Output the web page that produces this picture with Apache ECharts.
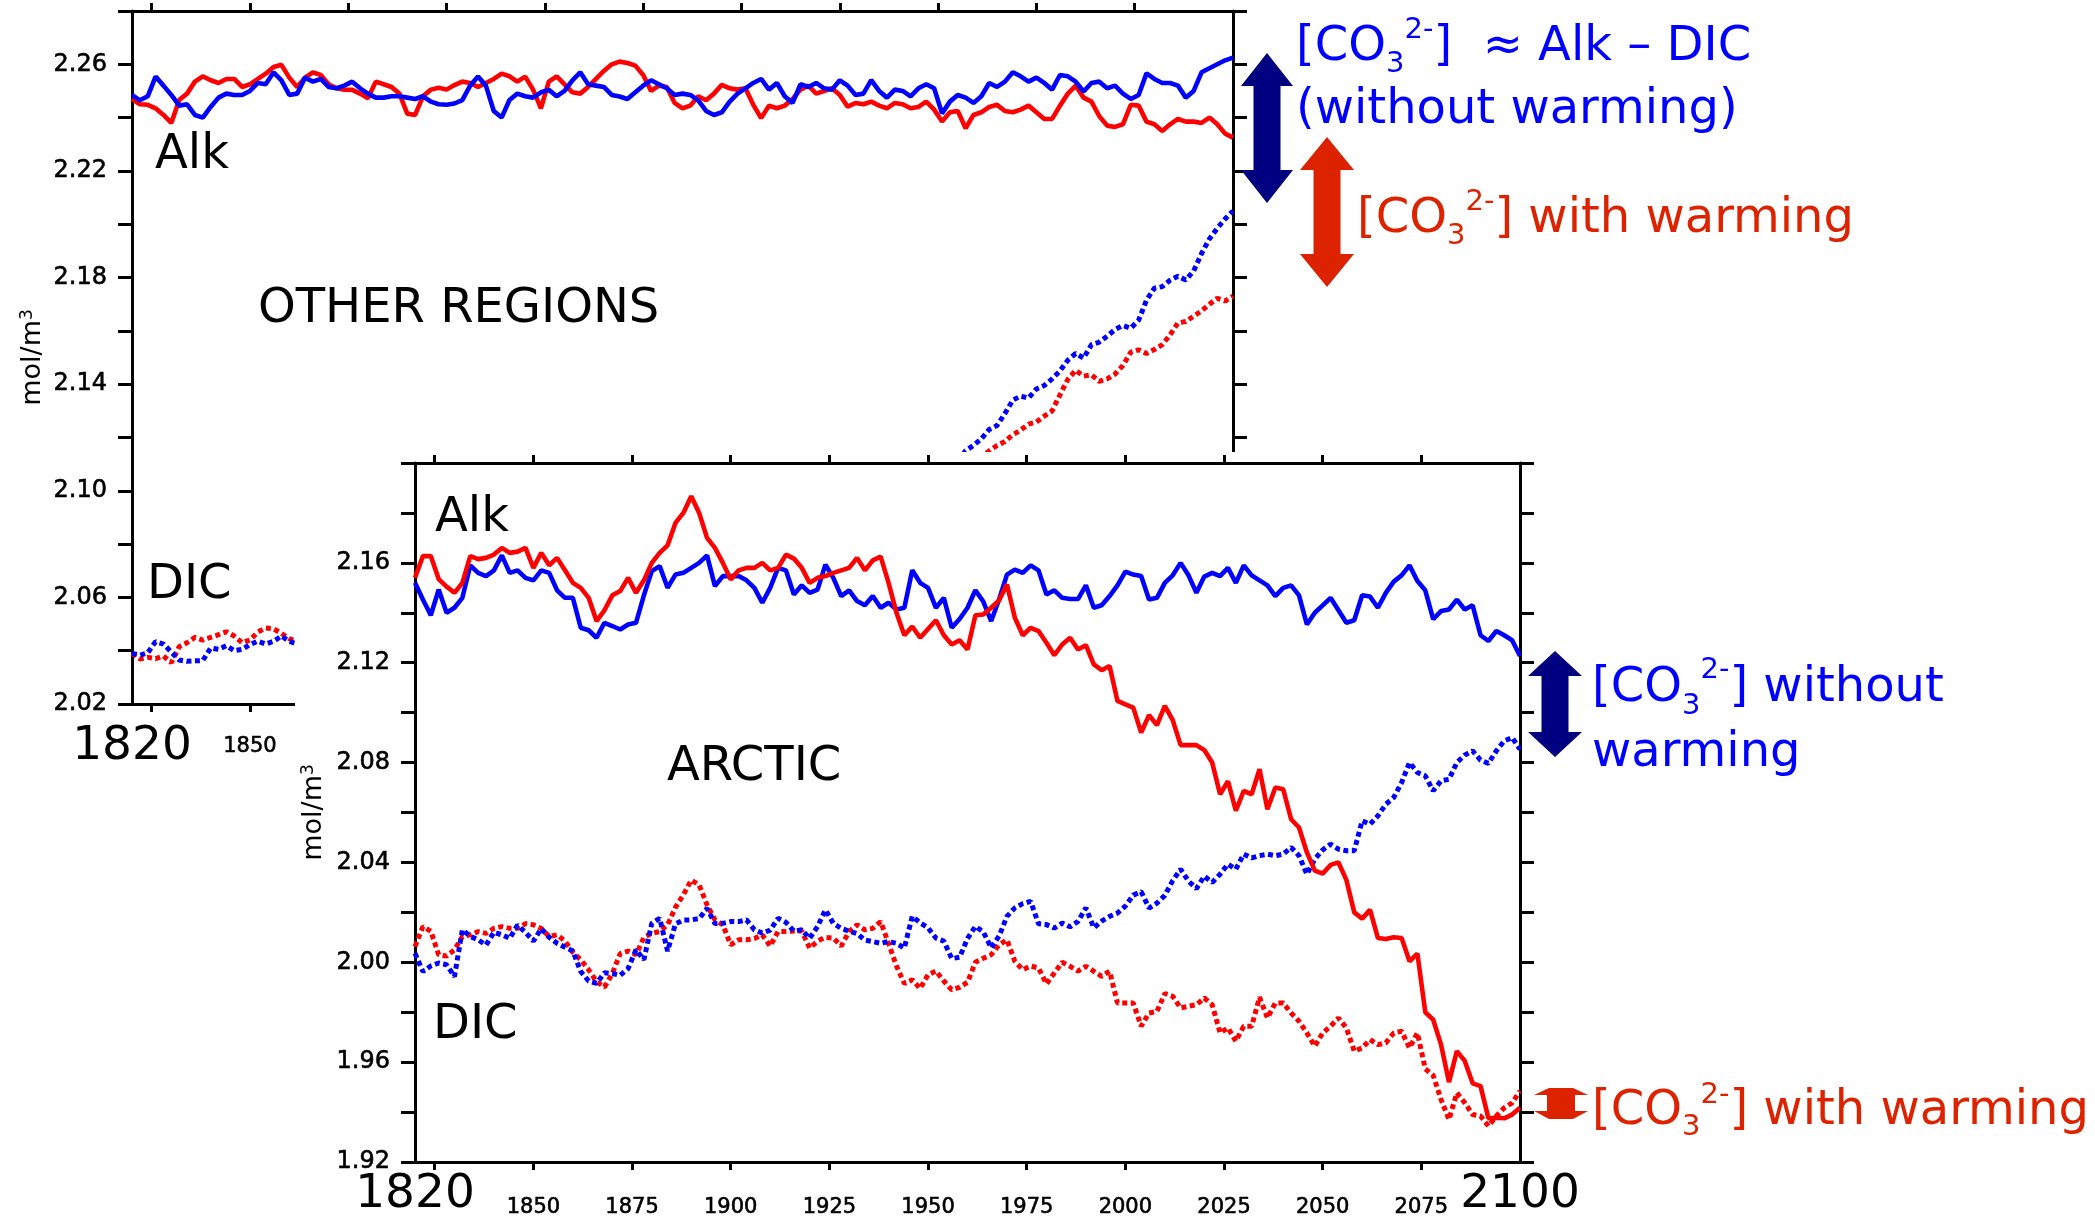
<!DOCTYPE html>
<html><head><meta charset="utf-8">
<script src="https://cdn.jsdelivr.net/npm/echarts@6.0.0/dist/echarts.min.js"></script>
<style>html,body{margin:0;padding:0;background:#fff}#c{width:2095px;height:1216px}</style>
</head><body><div id="c"></div>
<script>
// ---------------- data (2-year steps) ----------------
const START_YEAR = 1820, STEP = 2;
const tickYears = [1825,1850,1875,1900,1925,1950,1975,2000,2025,2050,2075];
const labelYears = [1820,1850,1875,1900,1925,1950,1975,2000,2025,2050,2075,2100];
const otherYLabels = ['2.02','2.06','2.10','2.14','2.18','2.22','2.26'];
const arcticYLabels = ['1.92','1.96','2.00','2.04','2.08','2.12','2.16'];

// OTHER REGIONS, Alk (1820..2100)
const otherAlkBlue = [
2.2485,2.2465,2.248,2.2554,2.252,2.2485,2.2445,2.245,2.241,2.240,
2.244,2.2475,2.249,2.2485,2.2485,2.250,2.253,2.2525,2.257,2.254,
2.2485,2.249,2.255,2.2535,2.2545,2.2515,2.251,2.252,2.2535,2.251,
2.249,2.2475,2.2475,2.248,2.248,2.2475,2.247,2.248,2.246,2.245,
2.2448,2.2453,2.2466,2.252,2.2554,2.252,2.2425,2.240,2.2466,2.249,
2.248,2.2475,2.2495,2.2504,2.248,2.250,2.254,2.257,2.2525,2.252,
2.2515,2.2485,2.2479,2.247,2.2495,2.252,2.254,2.2525,2.251,2.2485,
2.249,2.2485,2.2465,2.2425,2.241,2.242,2.246,2.249,2.251,2.253,
2.2545,2.2505,2.253,2.248,2.2455,2.2525,2.2515,2.253,2.251,2.2505,
2.254,2.252,2.2485,2.249,2.2541,2.250,2.2475,2.2505,2.250,2.248,
2.251,2.2525,2.251,2.2416,2.246,2.2485,2.2475,2.2455,2.248,2.253,
2.2515,2.2535,2.257,2.2555,2.2535,2.255,2.253,2.2505,2.256,2.2555,
2.2535,2.2498,2.253,2.2535,2.251,2.252,2.249,2.247,2.2485,2.2566,
2.2545,2.253,2.253,2.252,2.2475,2.250,2.257,2.2585,2.260,2.2615,
2.2625];
const otherAlkRed = [
2.247,2.245,2.2448,2.2435,2.241,2.238,2.2466,2.249,2.2535,2.2555,
2.254,2.253,2.2545,2.2545,2.2515,2.2525,2.2545,2.2565,2.259,2.2598,
2.255,2.2515,2.255,2.257,2.256,2.2525,2.251,2.2505,2.2504,2.249,
2.2473,2.2535,2.2525,2.2515,2.249,2.2415,2.241,2.248,2.2505,2.2512,
2.2505,2.2522,2.2535,2.253,2.2515,2.253,2.2545,2.2565,2.2555,2.2535,
2.2554,2.2505,2.2435,2.2535,2.2555,2.2525,2.2495,2.249,2.2515,2.2545,
2.2575,2.260,2.261,2.2605,2.2595,2.256,2.250,2.252,2.2515,2.2455,
2.2435,2.2445,2.248,2.2465,2.249,2.2523,2.251,2.2505,2.251,2.2448,
2.2398,2.2445,2.2435,2.2445,2.247,2.2505,2.252,2.249,2.250,2.251,
2.2485,2.2441,2.2455,2.245,2.246,2.2445,2.2435,2.2455,2.245,2.2435,
2.244,2.246,2.243,2.2385,2.242,2.2425,2.236,2.241,2.242,2.244,
2.2448,2.2425,2.242,2.243,2.2445,2.242,2.2395,2.2395,2.2445,2.249,
2.252,2.2475,2.246,2.2405,2.237,2.2365,2.2375,2.2448,2.2445,2.2385,
2.2375,2.235,2.2375,2.2395,2.2385,2.2385,2.238,2.240,2.2375,2.234,
2.2325];
// OTHER REGIONS, DIC (visible parts only)
const otherDicEarlyStart = 1820;
const otherDicBlueEarly = [2.0390,2.0383,2.0392,2.0434,2.0425,2.0395,2.0365,2.0360,2.0362,2.0363,2.0410,2.0405,2.0419,2.0400,2.0405,2.0423,2.0436,2.0425,2.0435,2.0455,2.0435,2.0425];
const otherDicRedEarly = [2.0390,2.0369,2.0375,2.0370,2.0380,2.0355,2.0415,2.0430,2.0450,2.0440,2.0450,2.0460,2.0471,2.0455,2.0430,2.0440,2.0470,2.0485,2.0482,2.0465,2.0445,2.0435];
const otherDicBlueLateStart = 2030;
const otherDicBlueLate = [2.111,2.1150,2.1170,2.1195,2.1230,2.1245,2.1290,2.1340,2.1355,2.1348,2.1382,2.1395,2.1420,2.1450,2.1490,2.1515,2.1498,2.1548,2.1558,2.1580,2.1605,2.1620,2.1610,2.1640,2.1715,2.1760,2.1766,2.1790,2.1805,2.1791,2.1825,2.1890,2.1945,2.1985,2.2020,2.2050];
const otherDicRedLateStart = 2034;
const otherDicRedLate = [2.110,2.1125,2.1150,2.1170,2.1185,2.1210,2.1228,2.1250,2.1258,2.1280,2.1300,2.1360,2.1418,2.1452,2.1430,2.1435,2.1410,2.1420,2.1438,2.1470,2.1520,2.1529,2.1515,2.1530,2.1548,2.1585,2.1630,2.1635,2.1655,2.1675,2.1700,2.1722,2.1712,2.1730];

// ARCTIC (1820..2100)
const arcticAlkBlue = [
2.152,2.1453,2.139,2.1493,2.140,2.142,2.146,2.159,2.156,2.1547,
2.157,2.163,2.156,2.157,2.154,2.153,2.157,2.156,2.149,2.146,
2.146,2.134,2.133,2.130,2.136,2.1347,2.1333,2.1353,2.136,2.147,
2.1567,2.1587,2.150,2.1553,2.156,2.158,2.160,2.163,2.1507,2.1547,
2.1547,2.1547,2.153,2.150,2.144,2.150,2.158,2.157,2.1473,2.151,
2.148,2.1493,2.1593,2.154,2.1467,2.149,2.1447,2.143,2.1467,2.142,
2.144,2.1413,2.142,2.157,2.152,2.150,2.142,2.146,2.134,2.1375,
2.142,2.149,2.1445,2.1367,2.1453,2.1553,2.1573,2.156,2.159,2.157,
2.1473,2.149,2.146,2.1455,2.1455,2.151,2.142,2.143,2.1467,2.151,
2.1565,2.1553,2.1547,2.1453,2.146,2.152,2.155,2.160,2.155,2.148,
2.1545,2.156,2.1547,2.158,2.152,2.159,2.155,2.153,2.151,2.1467,
2.150,2.151,2.147,2.1353,2.140,2.143,2.146,2.141,2.136,2.137,
2.147,2.1465,2.142,2.148,2.1525,2.155,2.159,2.1527,2.149,2.1375,
2.1407,2.1413,2.1453,2.1413,2.143,2.131,2.1287,2.1327,2.131,2.129,
2.1227];
const arcticAlkRed = [
2.154,2.1627,2.1627,2.1535,2.1505,2.148,2.152,2.1627,2.1615,2.162,
2.1633,2.166,2.164,2.1645,2.166,2.158,2.164,2.159,2.162,2.157,
2.152,2.150,2.146,2.1367,2.141,2.147,2.1487,2.154,2.148,2.153,
2.160,2.164,2.167,2.176,2.180,2.1867,2.180,2.170,2.166,2.160,
2.1533,2.157,2.158,2.158,2.160,2.157,2.158,2.1633,2.1617,2.158,
2.152,2.154,2.1547,2.156,2.157,2.158,2.162,2.157,2.161,2.1625,
2.152,2.140,2.131,2.1345,2.130,2.1335,2.137,2.131,2.1273,2.129,
2.1253,2.139,2.1393,2.142,2.145,2.1513,2.138,2.131,2.134,2.1327,
2.128,2.123,2.1273,2.130,2.1253,2.127,2.1193,2.117,2.1187,2.1047,
2.1033,2.102,2.092,2.099,2.095,2.1027,2.097,2.087,2.087,2.087,
2.085,2.080,2.0673,2.0725,2.0607,2.0687,2.0673,2.0773,2.0613,2.070,
2.0693,2.0573,2.054,2.044,2.0367,2.0355,2.039,2.040,2.033,2.020,
2.0175,2.021,2.0097,2.0093,2.010,2.0097,2.0004,2.0035,1.980,1.977,
1.967,1.952,1.9644,1.9605,1.9515,1.9504,1.9375,1.9377,1.9375,1.939,
1.9417];
const arcticDicBlue = [
2.0036,1.9963,1.9985,1.9997,1.999,1.9943,2.013,2.0104,2.009,2.0069,
2.012,2.011,2.0096,2.0149,2.012,2.0085,2.0135,2.010,2.0076,2.006,
2.0045,1.9963,1.9925,1.9916,1.9958,1.9955,1.9948,1.9975,2.005,2.001,
2.0156,2.0176,2.0045,2.0154,2.0169,2.017,2.0175,2.0216,2.0155,2.0156,
2.0163,2.0163,2.017,2.013,2.0117,2.0129,2.0176,2.016,2.0125,2.013,
2.0096,2.0143,2.021,2.0156,2.0136,2.0125,2.0115,2.0089,2.0083,2.0076,
2.0083,2.0076,2.0057,2.0184,2.0158,2.0138,2.0097,2.0085,2.0015,2.002,
2.0095,2.0144,2.0122,2.0058,2.0105,2.0184,2.0218,2.0235,2.0244,2.0154,
2.0151,2.0137,2.0157,2.0142,2.0164,2.0218,2.0138,2.0165,2.0184,2.0197,
2.0225,2.0269,2.0283,2.0217,2.0237,2.0268,2.0327,2.0373,2.0325,2.0295,
2.0345,2.032,2.0353,2.0393,2.0373,2.0433,2.0418,2.0427,2.0433,2.0427,
2.0433,2.046,2.0427,2.0353,2.0413,2.045,2.0473,2.0453,2.0447,2.0447,
2.0567,2.0553,2.0587,2.0633,2.066,2.072,2.080,2.076,2.0747,2.0687,
2.0727,2.0733,2.080,2.083,2.0847,2.081,2.0797,2.0847,2.0887,2.090,
2.0853];
const arcticDicRed = [
2.0063,2.0143,2.0125,2.003,2.0025,2.005,2.0103,2.011,2.0123,2.0116,
2.0136,2.0143,2.0136,2.0136,2.0155,2.015,2.0135,2.0103,2.011,2.0085,
2.004,2.001,1.997,1.9923,1.990,1.9955,2.0035,2.0045,2.003,2.010,
2.0116,2.0123,2.015,2.022,2.027,2.0329,2.031,2.023,2.017,2.015,
2.007,2.009,2.009,2.0095,2.011,2.0065,2.0123,2.0123,2.0125,2.0125,
2.0057,2.0085,2.010,2.0097,2.0065,2.0123,2.015,2.013,2.0136,2.0163,
2.0075,1.9985,1.9915,1.993,1.9895,1.995,1.9965,1.9925,1.989,1.990,
1.992,2.000,2.0016,2.003,2.007,2.009,2.0004,1.997,1.9985,1.9977,
1.9913,1.9957,2.000,1.9984,1.9965,1.9984,1.9964,1.9944,1.9964,1.9837,
1.9837,1.9837,1.9744,1.9797,1.9803,1.9875,1.9864,1.9817,1.9824,1.983,
1.9857,1.983,1.9717,1.9737,1.9684,1.9744,1.9744,1.986,1.9777,1.9837,
1.9837,1.9797,1.9764,1.9717,1.9664,1.9717,1.9744,1.9777,1.9737,1.9644,
1.9657,1.969,1.967,1.9677,1.9717,1.9724,1.9657,1.9717,1.9573,1.9547,
1.945,1.937,1.9477,1.9437,1.939,1.9384,1.9344,1.9384,1.9417,1.9437,
1.9484];

// ---------------- helpers ----------------
const BLUE = '#0000ff', RED = '#ff0000', NAVY = '#000080', TXTRED = '#dd2200';
const FONT = 'DejaVu Sans';
const LW = 4.6;
function pairs(start, vals) { return vals.map((v, i) => [start + STEP * i, v]); }
function line(data, color, dotted, ax, z) {
  return { type: 'line', data, xAxisIndex: ax, yAxisIndex: ax, symbol: 'none', showSymbol: false,
    lineStyle: { color, width: dotted ? 5 : LW, type: dotted ? [5, 3.5] : 'solid', cap: 'butt' },
    silent: true, animation: false, z, clip: true };
}
const axLine = { show: true, onZero: false, lineStyle: { color: '#000', width: 3 } };
const heavy = { textBorderColor: '#000', textBorderWidth: 0.6 };
function xBottom(grid, z, margin, vAlign) {
  return { type: 'value', gridIndex: grid, position: 'bottom', min: 1820, max: 2100, z,
    axisLine: axLine, splitLine: { show: false },
    axisTick: { show: true, customValues: tickYears, length: 8, inside: false, lineStyle: { color: '#000', width: 3 } },
    axisLabel: { show: true, customValues: labelYears, margin, verticalAlign: vAlign, color: '#000',
      formatter: v => (v === 1820 || v === 2100) ? '{b|' + v + '}' : '{s|' + v + '}',
      rich: { b: { fontSize: 47, lineHeight: 47, fontFamily: FONT, color: '#000' },
              s: Object.assign({ fontSize: 21, lineHeight: 21, fontFamily: FONT, color: '#000' }, heavy) } } };
}
function xTop(grid, z) {
  return { type: 'value', gridIndex: grid, position: 'top', min: 1820, max: 2100, z,
    axisLine: axLine, splitLine: { show: false },
    axisTick: { show: true, customValues: tickYears, length: 8, lineStyle: { color: '#000', width: 3 } },
    axisLabel: { show: false } };
}
function yLeft(grid, z, min, max, labels, gap) {
  return { type: 'value', gridIndex: grid, position: 'left', min, max, interval: 0.02, z,
    axisLine: axLine, splitLine: { show: false },
    axisTick: { show: true, length: 14, lineStyle: { color: '#000', width: 3 } },
    axisLabel: Object.assign({ show: true, margin: 25, fontSize: 24, fontFamily: FONT, color: '#000',
      formatter: v => labels.includes(v.toFixed(2)) ? v.toFixed(2) : '' }, heavy),
    name: 'mol/m{s|3}', nameLocation: 'middle', nameGap: gap, nameRotate: 90, nameMoveOverlap: false,
    nameTextStyle: { fontSize: 27, fontFamily: FONT, color: '#000',
      rich: { s: { fontSize: 17, lineHeight: 17, verticalAlign: 'top', fontFamily: FONT, color: '#000' } } } };
}
function yRight(grid, z, min, max) {
  return { type: 'value', gridIndex: grid, position: 'right', min, max, interval: 0.02, z,
    axisLine: axLine, splitLine: { show: false },
    axisTick: { show: true, length: 14, lineStyle: { color: '#000', width: 3 } },
    axisLabel: { show: false } };
}
function label(text, x, baseline, z) {
  return { type: 'text', x, y: baseline - 12.6, z, silent: true,
    style: { text, fontSize: 48, fontFamily: FONT, fill: '#000', align: 'left', textAlign: 'left', verticalAlign: 'middle', textVerticalAlign: 'middle' } };
}
function co3Rich(color, lh) {
  return {
    n: { fontSize: 48, lineHeight: lh, fontFamily: FONT, color, verticalAlign: 'middle' },
    sub: { fontSize: 29, lineHeight: 29, fontFamily: FONT, color, verticalAlign: 'bottom' },
    sup: { fontSize: 29, lineHeight: 39, fontFamily: FONT, color, verticalAlign: 'top' }
  };
}
function note(text, color, x, top, lh, z) {
  return { type: 'text', x, y: top, z, silent: true,
    style: { text, rich: co3Rich(color, lh), fill: color, fontSize: 48, fontFamily: FONT,
      align: 'left', textAlign: 'left', verticalAlign: 'top', textVerticalAlign: 'top' } };
}
function dblArrow(cx, top, bottom, headW, shaftW, headH, color, z) {
  const h = headW / 2, s = shaftW / 2;
  return { type: 'polygon', z, silent: true, shape: { points: [
    [cx, top], [cx + h, top + headH], [cx + s, top + headH], [cx + s, bottom - headH],
    [cx + h, bottom - headH], [cx, bottom], [cx - h, bottom - headH], [cx - s, bottom - headH],
    [cx - s, top + headH], [cx - h, top + headH]] }, style: { fill: color } };
}

const chart = echarts.init(document.getElementById('c'), null, { renderer: 'canvas', width: 2095, height: 1216 });
const option = {
  animation: false,
  backgroundColor: '#fff',
  grid: [
    { left: 132, top: 11, width: 1101, height: 693, containLabel: false, outerBoundsMode: 'none' },
    { left: 415, top: 463, width: 1105, height: 699, containLabel: false, outerBoundsMode: 'none' }
  ],
  xAxis: [ xBottom(0, 1, 43, 'middle'), xTop(0, 1), xBottom(1, 10, 56, 'bottom'), xTop(1, 10) ],
  yAxis: [ yLeft(0, 1, 2.02, 2.28, otherYLabels, 86), yRight(0, 1, 2.02, 2.28),
           yLeft(1, 10, 1.92, 2.20, arcticYLabels, 88), yRight(1, 10, 1.92, 2.20) ],
  series: [
    line(pairs(otherDicEarlyStart, otherDicRedEarly), RED, true, 0, 2),
    line(pairs(otherDicEarlyStart, otherDicBlueEarly), BLUE, true, 0, 2),
    line(pairs(otherDicRedLateStart, otherDicRedLate), RED, true, 0, 2),
    line(pairs(otherDicBlueLateStart, otherDicBlueLate), BLUE, true, 0, 2),
    line(pairs(START_YEAR, otherAlkRed), RED, false, 0, 2),
    line(pairs(START_YEAR, otherAlkBlue), BLUE, false, 0, 2),
    Object.assign(line(pairs(START_YEAR, arcticDicRed), RED, true, 2, 11), { xAxisIndex: 2, yAxisIndex: 2 }),
    Object.assign(line(pairs(START_YEAR, arcticDicBlue), BLUE, true, 2, 11), { xAxisIndex: 2, yAxisIndex: 2 }),
    Object.assign(line(pairs(START_YEAR, arcticAlkBlue), BLUE, false, 2, 11), { xAxisIndex: 2, yAxisIndex: 2 }),
    Object.assign(line(pairs(START_YEAR, arcticAlkRed), RED, false, 2, 11), { xAxisIndex: 2, yAxisIndex: 2 })
  ],
  graphic: { elements: [
    { type: 'rect', z: 5, silent: true, shape: { x: 295, y: 452, width: 1800, height: 764 }, style: { fill: '#fff' } },
    label('Alk', 155, 168, 30),
    label('OTHER REGIONS', 258, 322, 30),
    label('DIC', 147, 598, 30),
    label('Alk', 435, 531, 30),
    label('ARCTIC', 667, 780, 30),
    label('DIC', 433, 1038, 30),
    dblArrow(1267, 53, 203, 52, 27, 33, NAVY, 30),
    dblArrow(1327, 137, 287, 54, 27, 33, TXTRED, 30),
    dblArrow(1555, 651, 757, 54, 27, 25, NAVY, 30),
    { type: 'polygon', z: 30, silent: true, shape: { points: [
        [1549, 1088], [1573, 1088], [1588, 1095], [1575, 1095], [1575, 1111], [1588, 1111],
        [1573, 1119], [1549, 1119], [1534, 1111], [1547, 1111], [1547, 1095], [1534, 1095]] },
      style: { fill: TXTRED } },
    note('{n|[CO}{sub|3}{sup|2-}{n|]  \u2248 Alk \u2013 DIC}\n{n|(without warming)}', BLUE, 1296, 16, 63, 30),
    note('{n|[CO}{sub|3}{sup|2-}{n|] with warming}', TXTRED, 1357, 188, 63, 30),
    note('{n|[CO}{sub|3}{sup|2-}{n|] without}\n{n|warming}', BLUE, 1592, 656, 65, 30),
    note('{n|[CO}{sub|3}{sup|2-}{n|] with warming}', TXTRED, 1592, 1081, 61, 30)
  ] }
};
chart.setOption(option);
</script>
</body></html>
